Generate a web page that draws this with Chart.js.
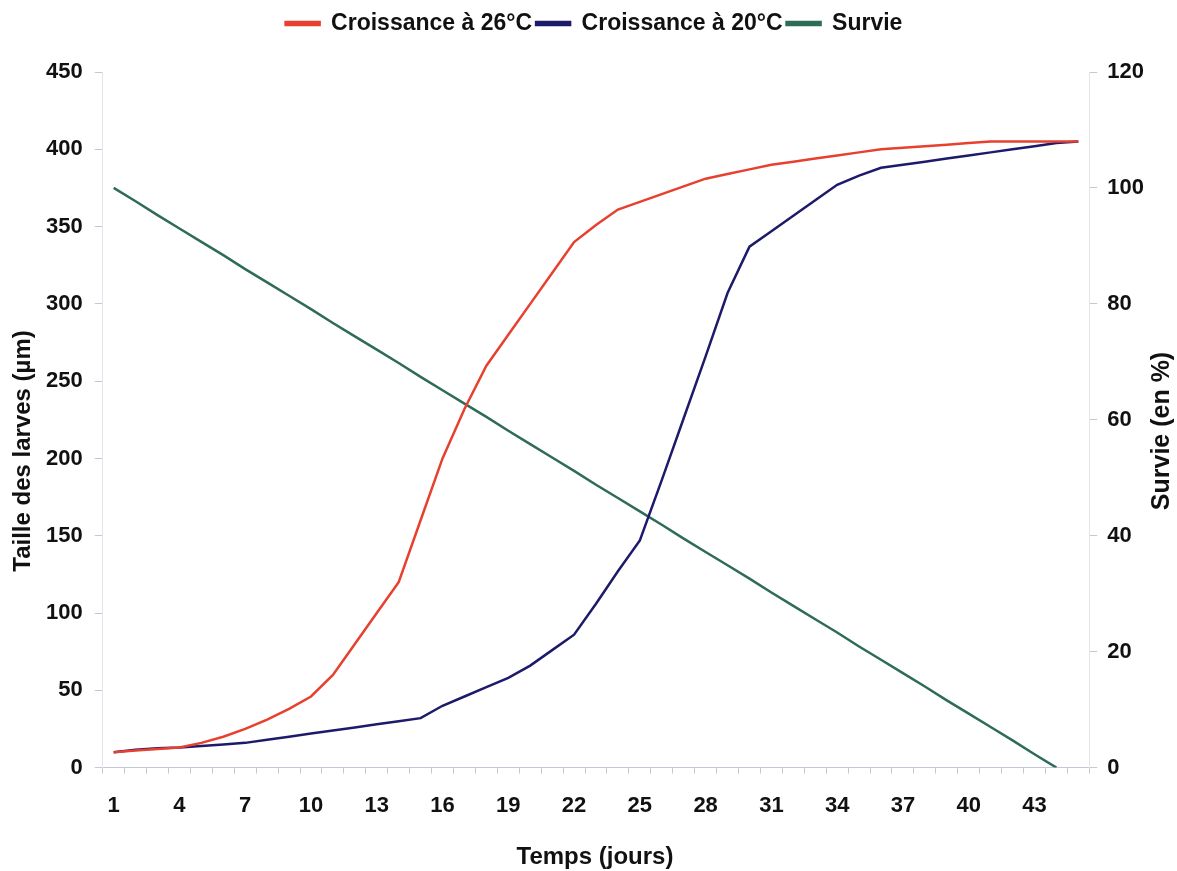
<!DOCTYPE html>
<html><head><meta charset="utf-8">
<script src="https://cdn.jsdelivr.net/npm/chart.js@4.4.1/dist/chart.umd.min.js"></script>
<style>html,body{margin:0;padding:0;background:#fff}#wrap{width:1177px;height:871px}</style>
</head><body><div id="wrap"><canvas id="c" width="1177" height="871"></canvas></div>
<script>
const days = [1,2,3,4,5,6,7,8,9,10,11,12,13,14,15,16,17,18,19,20,21,22,23,24,25,26,27,28,29,30,31,32,33,34,35,36,37,38,39,40,41,42,43,44,45];
const croissance26 = [10,11,12,13,16,20,25,31,38,46,60,80,100,120,160,200,232,260,280,300,320,340,351,361,366,371,376,381,384,387,390,392,394,396,398,400,401,402,403,404,405,405,405,405,405];
const croissance20 = [10,11.5,12.5,13,14,15,16,18,20,22,24,26,28,30,32,40,46,52,58,66,76,86,106,127,147,186,226,266,307,337,347,357,367,377,383,388,390,392,394,396,398,400,402,404,405];
const survie = [100,97.7,95.3,93.0,90.7,88.4,86.0,83.7,81.4,79.1,76.7,74.4,72.1,69.8,67.4,65.1,62.8,60.5,58.1,55.8,53.5,51.2,48.8,46.5,44.2,41.9,39.5,37.2,34.9,32.6,30.2,27.9,25.6,23.3,20.9,18.6,16.3,14.0,11.6,9.3,7.0,4.7,2.3,0,null];
const leftTicks = [0,50,100,150,200,250,300,350,400,450];
const rightTicks = [0,20,40,60,80,100,120];
const titleX = 'Temps (jours)';
const titleY = 'Taille des larves (µm)';
const titleY2 = 'Survie (en %)';

const FONT = '"Liberation Sans",Arial,sans-serif';
const tickFont = {family: FONT, size: 22, weight: 'bold'};
const axisCol = '#c4c8d6';

const legendMargin = {
  id: 'legendMargin',
  beforeInit(chart) {
    const fit = chart.legend.fit;
    chart.legend.fit = function() { fit.bind(chart.legend)(); this.height += 27; };
  }
};
const axisTitles = {
  id: 'axisTitles',
  afterDraw(chart) {
    const ctx = chart.ctx;
    ctx.save();
    ctx.fillStyle = '#111';
    ctx.font = 'bold 24px ' + FONT;
    ctx.textAlign = 'center';
    ctx.textBaseline = 'middle';
    ctx.fillText(titleX, 595, 857);
    ctx.save(); ctx.translate(23, 451); ctx.rotate(-Math.PI/2); ctx.fillText(titleY, 0, 0); ctx.restore();
    ctx.save(); ctx.translate(1162, 431); ctx.rotate(-Math.PI/2); ctx.font = 'bold 25px ' + FONT; ctx.fillText(titleY2, 0, 0); ctx.restore();
    ctx.restore();
  }
};

new Chart(document.getElementById('c'), {
  type: 'line',
  data: {
    labels: days.map(String),
    datasets: [
      {label: 'Croissance à 26°C', data: croissance26, borderColor: '#e8402e', backgroundColor: '#e8402e', borderWidth: 2.5, pointRadius: 0, yAxisID: 'y', tension: 0},
      {label: 'Croissance à 20°C', data: croissance20, borderColor: '#1d1a6a', backgroundColor: '#1d1a6a', borderWidth: 2.5, pointRadius: 0, yAxisID: 'y', tension: 0},
      {label: 'Survie', data: survie, borderColor: '#2e6b58', backgroundColor: '#2e6b58', borderWidth: 2.5, pointRadius: 0, yAxisID: 'y2', tension: 0}
    ]
  },
  plugins: [legendMargin, axisTitles],
  options: {
    responsive: false,
    animation: false,
    layout: {padding: {left: 34, right: 23, top: 8, bottom: 33}},
    plugins: {
      legend: {
        position: 'top',
        labels: {font: {family: FONT, size: 23, weight: 'bold'}, color: '#111', boxWidth: 34, boxHeight: 3, padding: 4},
      },
      tooltip: {enabled: false}
    },
    scales: {
      x: {
        type: 'category',
        offset: true,
        grid: {display: true, offset: true, drawOnChartArea: false, drawTicks: true, tickLength: 6, color: axisCol},
        border: {display: true, color: axisCol, width: 1},
        ticks: {autoSkip: false, maxRotation: 0, font: tickFont, color: '#111', padding: 19,
          callback: function(v, i){ return (i % 3 === 0) ? days[i] : ''; }},
        title: {display: false}
      },
      y: {
        position: 'left',
        min: 0, max: 450,
        afterBuildTicks: a => { a.ticks = leftTicks.map(v => ({value: v})); },
        grid: {drawOnChartArea: false, drawTicks: true, tickLength: 8, color: axisCol},
        border: {display: true, color: '#e4e6ec'},
        ticks: {font: tickFont, color: '#111', padding: 12},
        title: {display: false}
      },
      y2: {
        position: 'right',
        min: 0, max: 120,
        afterBuildTicks: a => { a.ticks = rightTicks.map(v => ({value: v})); },
        grid: {drawOnChartArea: false, drawTicks: true, tickLength: 8, color: axisCol},
        border: {display: true, color: '#e4e6ec'},
        ticks: {font: tickFont, color: '#111', padding: 10},
        title: {display: false}
      }
    }
  }
});
</script></body></html>
